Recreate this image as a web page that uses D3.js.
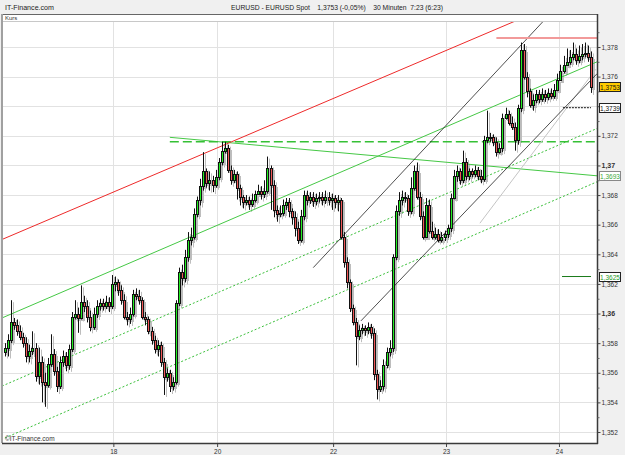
<!DOCTYPE html>
<html>
<head>
<meta charset="utf-8">
<script src="https://cdn.jsdelivr.net/npm/d3@7"></script>
<style>
  body { margin: 0; background: #f0f0f0; }
  svg { display: block; font-family: "Liberation Sans", Arial, sans-serif; }
</style>
</head>
<body>
<svg id="chart" width="625" height="455"></svg>
<script>
// EURUSD 30 min candles (oldest first)
const opens = [
1.3574,1.3577,1.3582,1.3594,1.3592,1.3588,1.3584,1.3580,1.3571,1.3575,
1.3577,1.3558,1.3567,1.3554,1.3552,1.3566,1.3573,1.3561,1.3551,1.3567,
1.3571,1.3565,1.3576,1.3598,1.3600,1.3597,1.3608,1.3605,1.3598,1.3591,
1.3600,1.3605,1.3607,1.3605,1.3608,1.3605,1.3620,1.3621,1.3616,1.3609,
1.3598,1.3596,1.3600,1.3613,1.3612,1.3609,1.3598,1.3596,1.3588,1.3582,
1.3576,1.3579,1.3567,1.3557,1.3560,1.3551,1.3554,1.3607,1.3628,1.3624,
1.3638,1.3650,1.3652,1.3667,1.3677,1.3686,1.3696,1.3688,1.3690,1.3687,
1.3692,1.3702,1.3710,1.3712,1.3697,1.3690,1.3694,1.3685,1.3679,1.3675,
1.3677,1.3674,1.3677,1.3681,1.3683,1.3681,1.3683,1.3698,1.3687,1.3670,
1.3667,1.3668,1.3673,1.3675,1.3669,1.3665,1.3658,1.3650,1.3666,1.3680,
1.3677,1.3679,1.3676,1.3678,1.3679,1.3677,1.3679,1.3677,1.3678,1.3675,
1.3677,1.3652,1.3635,1.3621,1.3604,1.3594,1.3585,1.3589,1.3590,1.3589,
1.3591,1.3587,1.3559,1.3549,1.3551,1.3565,1.3574,1.3577,1.3638,1.3669,
1.3677,1.3679,1.3678,1.3669,1.3685,1.3696,1.3679,1.3666,1.3652,1.3673,
1.3656,1.3652,1.3654,1.3650,1.3652,1.3654,1.3658,1.3678,1.3693,1.3696,
1.3690,1.3702,1.3693,1.3696,1.3694,1.3697,1.3693,1.3691,1.3717,1.3719,
1.3719,1.3716,1.3709,1.3712,1.3732,1.3735,1.3729,1.3726,1.3717,1.3739,
1.3778,1.3760,1.3750,1.3741,1.3744,1.3748,1.3745,1.3748,1.3746,1.3749,
1.3747,1.3751,1.3758,1.3764,1.3768,1.3770,1.3773,1.3775,1.3771,1.3774,
1.3775,1.3776,1.3773
];
const highs = [
1.3580,1.3586,1.3609,1.3597,1.3596,1.3592,1.3587,1.3584,1.3579,1.3588,
1.3580,1.3577,1.3571,1.3560,1.3570,1.3586,1.3576,1.3564,1.3571,1.3575,
1.3574,1.3579,1.3601,1.3609,1.3604,1.3619,1.3612,1.3609,1.3602,1.3604,
1.3609,1.3610,1.3610,1.3612,1.3611,1.3626,1.3625,1.3623,1.3619,1.3613,
1.3601,1.3604,1.3616,1.3617,1.3616,1.3611,1.3601,1.3598,1.3591,1.3585,
1.3582,1.3581,1.3570,1.3563,1.3562,1.3557,1.3609,1.3631,1.3633,1.3643,
1.3655,1.3658,1.3671,1.3679,1.3691,1.3709,1.3698,1.3696,1.3693,1.3697,
1.3705,1.3716,1.3716,1.3714,1.3700,1.3697,1.3696,1.3687,1.3680,1.3680,
1.3679,1.3681,1.3683,1.3687,1.3686,1.3690,1.3706,1.3700,1.3690,1.3673,
1.3673,1.3677,1.3678,1.3678,1.3671,1.3669,1.3662,1.3670,1.3683,1.3683,
1.3682,1.3682,1.3681,1.3682,1.3682,1.3683,1.3682,1.3681,1.3680,1.3680,
1.3678,1.3655,1.3638,1.3623,1.3606,1.3597,1.3592,1.3593,1.3592,1.3594,
1.3593,1.3590,1.3562,1.3555,1.3569,1.3577,1.3582,1.3640,1.3673,1.3682,
1.3683,1.3682,1.3680,1.3692,1.3700,1.3702,1.3682,1.3669,1.3678,1.3677,
1.3662,1.3658,1.3657,1.3655,1.3656,1.3660,1.3681,1.3697,1.3700,1.3698,
1.3710,1.3705,1.3698,1.3698,1.3700,1.3699,1.3697,1.3720,1.3737,1.3722,
1.3721,1.3719,1.3715,1.3735,1.3739,1.3737,1.3733,1.3729,1.3741,1.3783,
1.3782,1.3763,1.3752,1.3748,1.3751,1.3751,1.3752,1.3751,1.3752,1.3752,
1.3755,1.3762,1.3768,1.3774,1.3779,1.3778,1.3783,1.3779,1.3781,1.3782,
1.3783,1.3781,1.3777
];
const lows = [
1.3571,1.3571,1.3580,1.3589,1.3585,1.3582,1.3577,1.3567,1.3567,1.3572,
1.3554,1.3552,1.3540,1.3537,1.3550,1.3564,1.3558,1.3547,1.3549,1.3564,
1.3561,1.3562,1.3574,1.3596,1.3587,1.3596,1.3601,1.3594,1.3588,1.3589,
1.3597,1.3602,1.3602,1.3603,1.3601,1.3603,1.3615,1.3612,1.3606,1.3596,
1.3592,1.3593,1.3598,1.3609,1.3606,1.3596,1.3592,1.3586,1.3579,1.3573,
1.3571,1.3564,1.3545,1.3554,1.3547,1.3548,1.3552,1.3605,1.3619,1.3621,
1.3635,1.3646,1.3650,1.3665,1.3673,1.3683,1.3685,1.3683,1.3682,1.3685,
1.3690,1.3700,1.3708,1.3695,1.3687,1.3688,1.3677,1.3673,1.3671,1.3673,
1.3670,1.3672,1.3675,1.3680,1.3677,1.3678,1.3681,1.3670,1.3665,1.3662,
1.3665,1.3666,1.3670,1.3665,1.3660,1.3652,1.3647,1.3648,1.3663,1.3673,
1.3674,1.3672,1.3673,1.3675,1.3673,1.3674,1.3673,1.3670,1.3671,1.3669,
1.3650,1.3631,1.3617,1.3601,1.3592,1.3565,1.3582,1.3586,1.3585,1.3586,
1.3583,1.3555,1.3542,1.3547,1.3548,1.3563,1.3571,1.3574,1.3636,1.3666,
1.3673,1.3675,1.3666,1.3667,1.3683,1.3677,1.3663,1.3650,1.3651,1.3654,
1.3650,1.3650,1.3648,1.3648,1.3649,1.3651,1.3655,1.3677,1.3689,1.3687,
1.3688,1.3690,1.3690,1.3692,1.3692,1.3690,1.3688,1.3689,1.3715,1.3716,
1.3713,1.3706,1.3708,1.3709,1.3731,1.3727,1.3724,1.3710,1.3714,1.3736,
1.3758,1.3746,1.3739,1.3737,1.3742,1.3742,1.3743,1.3743,1.3744,1.3745,
1.3745,1.3750,1.3757,1.3762,1.3767,1.3768,1.3771,1.3768,1.3769,1.3771,
1.3773,1.3770,1.3749
];
const closes = [
1.3577,1.3582,1.3594,1.3592,1.3588,1.3584,1.3580,1.3571,1.3575,1.3577,
1.3558,1.3567,1.3554,1.3552,1.3566,1.3573,1.3561,1.3551,1.3567,1.3571,
1.3565,1.3576,1.3598,1.3600,1.3597,1.3608,1.3605,1.3598,1.3591,1.3600,
1.3605,1.3607,1.3605,1.3608,1.3605,1.3620,1.3621,1.3616,1.3609,1.3598,
1.3596,1.3600,1.3613,1.3612,1.3609,1.3598,1.3596,1.3588,1.3582,1.3576,
1.3579,1.3567,1.3557,1.3560,1.3551,1.3554,1.3607,1.3628,1.3624,1.3638,
1.3650,1.3652,1.3667,1.3677,1.3686,1.3696,1.3688,1.3690,1.3687,1.3692,
1.3702,1.3710,1.3712,1.3697,1.3690,1.3694,1.3685,1.3679,1.3675,1.3677,
1.3674,1.3677,1.3681,1.3683,1.3681,1.3683,1.3698,1.3687,1.3670,1.3667,
1.3668,1.3673,1.3675,1.3669,1.3665,1.3658,1.3650,1.3666,1.3680,1.3677,
1.3679,1.3676,1.3678,1.3679,1.3677,1.3679,1.3677,1.3678,1.3675,1.3677,
1.3652,1.3635,1.3621,1.3604,1.3594,1.3585,1.3589,1.3590,1.3589,1.3591,
1.3587,1.3559,1.3549,1.3551,1.3565,1.3574,1.3577,1.3638,1.3669,1.3677,
1.3679,1.3678,1.3669,1.3685,1.3696,1.3679,1.3666,1.3652,1.3673,1.3656,
1.3652,1.3654,1.3650,1.3652,1.3654,1.3658,1.3678,1.3693,1.3696,1.3690,
1.3702,1.3693,1.3696,1.3694,1.3697,1.3693,1.3691,1.3717,1.3719,1.3719,
1.3716,1.3709,1.3712,1.3732,1.3735,1.3729,1.3726,1.3717,1.3739,1.3778,
1.3760,1.3750,1.3741,1.3744,1.3748,1.3745,1.3748,1.3746,1.3749,1.3747,
1.3751,1.3758,1.3764,1.3768,1.3770,1.3773,1.3775,1.3771,1.3774,1.3775,
1.3776,1.3773,1.3753
];

// day labels and the candle index where each day starts
const dayLabels = ["18", "20", "22", "23", "24"];
const dayAt = [35.5, 69.5, 107.5, 144.5, 181.5];

const priceTicks = [1.352, 1.354, 1.356, 1.358, 1.360, 1.362, 1.364,
                    1.366, 1.368, 1.370, 1.372, 1.374, 1.376, 1.378];
const minorTicks = [1.353, 1.355, 1.357, 1.359, 1.361, 1.363, 1.365,
                    1.367, 1.369, 1.371, 1.373, 1.375, 1.377, 1.379];

// drawn trendlines as [candle index, price] pairs
const redTrend = [[-1, 1.3650], [170, 1.3800]];
const redLevel = [[161, 1.3786], [194, 1.3786]];
const greenUpper = [[-1, 1.3597], [194, 1.3770]];
const greenDotMid = [[-1, 1.3551], [194, 1.3725]];
const greenDotLow = [[0, 1.3516], [194, 1.3689]];
const greenFall = [[54, 1.3719], [194, 1.3693]];
const greenDashLevel = [[54, 1.3716], [194, 1.3716]];
const blackUpper = [[101, 1.3631], [178, 1.3801]];
const blackLower = [[116.6, 1.3595], [194, 1.3762]];
const grayLine = [[155.6, 1.3661], [193.6, 1.3765]];
const darkGreenLevel = [[182.5, 1.3625], [192, 1.3625]];
const blackDashLevel = [[182.8, 1.3739], [192, 1.3739]];

// price boxes on the right axis
const markerValues = [1.3753, 1.3739, 1.3693, 1.3625];

const svg = d3.select("#chart");
const plot = { left: 3, right: 597, top: 22, bottom: 443 };

const x = d3.scaleLinear().domain([0, closes.length - 1]).range([5, 591]);
const y = d3.scaleLinear().domain([1.352, 1.378]).range([432, 47]);

const loc = d3.formatLocale({ decimal: ",", thousands: ".", grouping: [3], currency: ["", ""] });
const fmtTick = loc.format(".3~f");
const fmtMark = loc.format(".4f");

// background + plot area
svg.append("rect").attr("width", 625).attr("height", 455).attr("fill", "#f0f0f0");
svg.append("rect")
  .attr("x", plot.left).attr("y", 14)
  .attr("width", plot.right - plot.left).attr("height", plot.bottom - 14)
  .attr("fill", "#fff");

// header
svg.append("text").attr("x", 5).attr("y", 10)
  .attr("font-size", 8).attr("fill", "#222")
  .attr("textLength", 49).attr("lengthAdjust", "spacingAndGlyphs")
  .text("IT-Finance.com");
svg.append("text").attr("x", 231).attr("y", 10)
  .attr("font-size", 8).attr("fill", "#222")
  .style("white-space", "pre")
  .attr("textLength", 212).attr("lengthAdjust", "spacingAndGlyphs")
  .text("EURUSD - EURUSD Spot    1,3753 (-0,05%)    30 Minuten  7:23 (6:23)");

// "Kurs" strip
svg.append("line").attr("x1", plot.left).attr("x2", plot.right)
  .attr("y1", 14.5).attr("y2", 14.5).attr("stroke", "#666");
svg.append("line").attr("x1", plot.left).attr("x2", plot.right)
  .attr("y1", 21.5).attr("y2", 21.5).attr("stroke", "#c8c8c8");
svg.append("text").attr("x", 5).attr("y", 20)
  .attr("font-size", 6).attr("fill", "#333").text("Kurs");

// grid
svg.append("g").selectAll("line").data(priceTicks).join("line")
  .attr("x1", plot.left).attr("x2", plot.right)
  .attr("y1", d => Math.round(y(d)) + 0.5).attr("y2", d => Math.round(y(d)) + 0.5)
  .attr("stroke", "#e2e2e2");
svg.append("g").selectAll("line").data(dayAt).join("line")
  .attr("x1", d => Math.round(x(d)) + 0.5).attr("x2", d => Math.round(x(d)) + 0.5)
  .attr("y1", plot.top).attr("y2", plot.bottom)
  .attr("stroke", "#e2e2e2");

svg.append("clipPath").attr("id", "clip")
  .append("rect")
  .attr("x", plot.left).attr("y", plot.top)
  .attr("width", plot.right - plot.left).attr("height", plot.bottom - plot.top);

const gPlot = svg.append("g").attr("clip-path", "url(#clip)");

// candles: grey drop shadow first, then black-outlined bodies
const candles = closes.map((c, i) => ({ i, o: opens[i], h: highs[i], l: lows[i], c }));

function drawCandles(g, shadow) {
  const cg = g.selectAll("g.c").data(candles).join("g").attr("class", "c");
  cg.append("line")
    .attr("x1", d => Math.round(x(d.i)) + 0.5).attr("x2", d => Math.round(x(d.i)) + 0.5)
    .attr("y1", d => y(d.h)).attr("y2", d => y(d.l))
    .attr("stroke", shadow ? "#bdbdbd" : "#111").attr("stroke-width", 1);
  cg.append("rect")
    .attr("x", d => Math.round(x(d.i)) - 0.5)
    .attr("y", d => Math.round(y(Math.max(d.o, d.c))) + 0.5)
    .attr("width", 2)
    .attr("height", d => Math.max(1, Math.round(y(Math.min(d.o, d.c))) - Math.round(y(Math.max(d.o, d.c)))))
    .attr("fill", d => shadow ? "#bdbdbd" : (d.c >= d.o ? "#22ee22" : "#f05656"))
    .attr("stroke", shadow ? "#bdbdbd" : "#111").attr("stroke-width", 1);
}

const gShadow = gPlot.append("g").attr("transform", "translate(2,2)");
drawCandles(gShadow, true);

// trendlines
const line = d3.line().x(d => x(d[0])).y(d => y(d[1]));
function trend(pts, color, width, dash) {
  gPlot.append("path").attr("d", line(pts))
    .attr("fill", "none").attr("stroke", color)
    .attr("stroke-width", width)
    .attr("stroke-dasharray", dash || null);
}
trend(greenDotMid, "#3cc03c", 1, "2,2");
trend(greenDotLow, "#3cc03c", 1, "2,2");
trend(greenUpper, "#45c845", 1);
trend(greenFall, "#45c845", 1);
trend(greenDashLevel, "#35c035", 1.3, "9,4");
trend(grayLine, "#c4c4c4", 1);
trend(blackUpper, "#222", 0.8);
trend(blackLower, "#222", 0.8);
trend(redTrend, "#ee2a2a", 1);

const gCandles = gPlot.append("g");
drawCandles(gCandles, false);

trend(redLevel, "#f29a9a", 2);
trend(darkGreenLevel, "#1a7a1a", 1);
trend(blackDashLevel, "#111", 1, "2,1");

// frame
svg.append("line").attr("x1", 2).attr("x2", 2).attr("y1", 14).attr("y2", plot.bottom)
  .attr("stroke", "#a0a0a0").attr("stroke-width", 2);
svg.append("line").attr("x1", plot.right + 0.5).attr("x2", plot.right + 0.5)
  .attr("y1", 14).attr("y2", plot.bottom + 1)
  .attr("stroke", "#3a3a3a").attr("stroke-width", 1.5);
svg.append("line").attr("x1", 2).attr("x2", plot.right + 1)
  .attr("y1", plot.bottom + 0.5).attr("y2", plot.bottom + 0.5)
  .attr("stroke", "#3a3a3a").attr("stroke-width", 1.5);

svg.append("text").attr("x", 5).attr("y", 441)
  .attr("font-size", 6.5).attr("fill", "#333")
  .text("\u00a9IT-Finance.com");

// right axis; labels hidden where a price box sits on top of them
const covered = d => markerValues.some(m => Math.abs(y(m) - y(d)) < 5);
const yAxis = d3.axisRight(y).tickValues(priceTicks).tickSize(3).tickPadding(1)
  .tickFormat(d => covered(d) ? "" : fmtTick(d));
const gy = svg.append("g").attr("transform", `translate(${plot.right + 0.5},0)`).call(yAxis);
gy.select(".domain").remove();
gy.selectAll(".tick line").attr("stroke", "#444");
gy.selectAll(".tick text")
  .attr("fill", "#333")
  .attr("font-family", "Liberation Sans, Arial, sans-serif")
  .attr("font-weight", d => fmtTick(d).length <= 4 ? "bold" : null)
  .attr("font-size", d => fmtTick(d).length <= 4 ? 7 : 6.5);
gy.selectAll(".tick").filter(d => covered(d)).select("text").remove();
const gyMinor = svg.append("g").attr("transform", `translate(${plot.right + 0.5},0)`)
  .call(d3.axisRight(y).tickValues(minorTicks).tickSize(2).tickFormat(""));
gyMinor.select(".domain").remove();
gyMinor.selectAll(".tick line").attr("stroke", "#666");

// bottom axis
const xAxis = d3.axisBottom(x).tickValues(dayAt).tickSize(3).tickPadding(2)
  .tickFormat((d, k) => dayLabels[k]);
const gx = svg.append("g").attr("transform", `translate(0,${plot.bottom + 1})`).call(xAxis);
gx.select(".domain").remove();
gx.selectAll(".tick line").attr("stroke", "#444");
gx.selectAll(".tick text").attr("font-size", 6.5).attr("fill", "#333")
  .attr("font-family", "Liberation Sans, Arial, sans-serif");

// price boxes
const markerStyle = [
  { fill: "#ffcc00", stroke: "#222", text: "#111" },
  { fill: "#fff", stroke: "#222", text: "#111" },
  { fill: "#fff", stroke: "#888", text: "#3aa83a" },
  { fill: "#fff", stroke: "#222", text: "#1f9a1f" }
];
const gm = svg.append("g").selectAll("g").data(markerValues).join("g")
  .attr("transform", d => `translate(599.5,${Math.round(y(d)) - 4.5})`);
gm.append("rect").attr("width", 21).attr("height", 9)
  .attr("fill", (d, k) => markerStyle[k].fill)
  .attr("stroke", (d, k) => markerStyle[k].stroke);
gm.append("text").attr("x", 10.5).attr("y", 7)
  .attr("text-anchor", "middle").attr("font-size", 6.5)
  .attr("fill", (d, k) => markerStyle[k].text)
  .text(d => fmtMark(d));
</script>
</body>
</html>
